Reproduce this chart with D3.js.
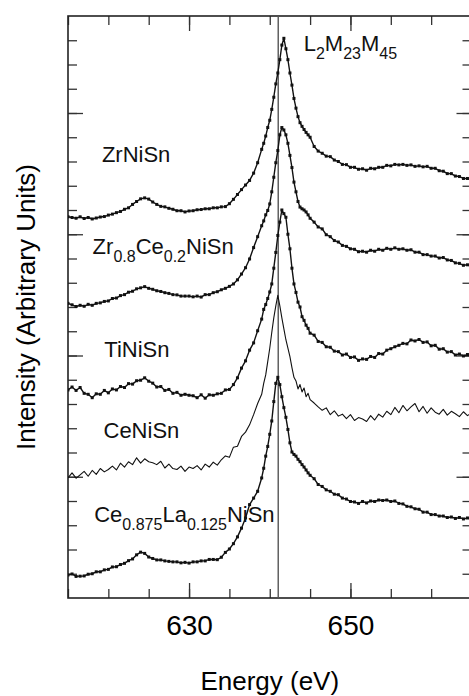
<!DOCTYPE html>
<html>
<head>
<meta charset="utf-8">
<script src="https://cdn.jsdelivr.net/npm/d3@7"></script>
<style>
  body { margin: 0; background: #fff; }
  svg { display: block; font-family: "Liberation Sans", Arial, Helvetica, sans-serif; }
</style>
</head>
<body>
<div id="chart-area"></div>
<script>
// energy grid (eV), finer around the L2M23M45 peak
const energies = [
  615, 615.5, 616, 616.5, 617, 617.5, 618, 618.5, 619, 619.5,
  620, 620.5, 621, 621.5, 622, 622.5, 623, 623.5, 624, 624.5,
  625, 625.5, 626, 626.5, 627, 627.5, 628, 628.5, 629, 629.5,
  630, 630.5, 631, 631.5, 632, 632.5, 633, 633.5, 634, 634.5,
  635, 635.5, 636, 636.5, 637, 637.5, 638, 638.5,
  639, 639.25, 639.5, 639.75, 640, 640.25, 640.5, 640.75, 641, 641.25,
  641.5, 641.75, 642, 642.25, 642.5, 642.75, 643, 643.25, 643.5, 643.75,
  644, 644.25, 644.5, 644.75, 645,
  645.5, 646, 646.5, 647, 647.5, 648, 648.5, 649, 649.5, 650,
  650.5, 651, 651.5, 652, 652.5, 653, 653.5, 654, 654.5, 655,
  655.5, 656, 656.5, 657, 657.5, 658, 658.5, 659, 659.5, 660,
  660.5, 661, 661.5, 662, 662.5, 663, 663.5, 664, 664.5, 665
]

// intensities, already stacked with their vertical offsets
const zrNiSn = [
  15.72, 15.69, 15.66, 15.72, 15.65, 15.69, 15.63, 15.67, 15.71, 15.73,
  15.79, 15.83, 15.89, 15.94, 16.03, 16.09, 16.23, 16.35, 16.46, 16.50,
  16.45, 16.33, 16.23, 16.15, 16.13, 16.07, 16.03, 15.97, 15.97, 15.92,
  15.96, 15.97, 16.01, 16.02, 16.05, 16.05, 16.09, 16.09, 16.13, 16.14,
  16.26, 16.44, 16.64, 16.84, 17.03, 17.22, 17.52, 17.95,
  18.50, 18.75, 19.05, 19.40, 19.70, 20.15, 20.65, 21.20, 21.65, 22.20,
  22.80, 23.08, 22.65, 22.20, 21.65, 21.15, 20.60, 20.20, 19.85, 19.60,
  19.45, 19.32, 19.20, 19.10, 19.00,
  18.62, 18.43, 18.34, 18.22, 18.20, 18.06, 18.00, 17.88, 17.87, 17.76,
  17.76, 17.68, 17.70, 17.64, 17.72, 17.70, 17.76, 17.76, 17.84, 17.82,
  17.88, 17.86, 17.88, 17.84, 17.86, 17.80, 17.82, 17.78, 17.80, 17.72,
  17.72, 17.62, 17.60, 17.50, 17.50, 17.40, 17.38, 17.30, 17.30, 17.24
]

const zrCeNiSn = [
  12.15, 12.09, 12.02, 12.07, 12.03, 12.11, 12.07, 12.15, 12.17, 12.23,
  12.25, 12.35, 12.37, 12.47, 12.51, 12.61, 12.65, 12.75, 12.79, 12.84,
  12.77, 12.73, 12.67, 12.64, 12.59, 12.56, 12.51, 12.50, 12.45, 12.45,
  12.45, 12.42, 12.45, 12.41, 12.51, 12.51, 12.59, 12.63, 12.71, 12.77,
  12.85, 12.95, 13.12, 13.36, 13.62, 13.98, 14.45, 14.90,
  15.35, 15.55, 15.80, 15.98, 16.25, 16.75, 17.35, 17.95, 18.45, 19.10,
  19.40, 19.30, 19.10, 18.75, 18.25, 17.75, 17.15, 16.75, 16.35, 16.12,
  16.05, 16.00, 15.92, 15.80, 15.66,
  15.50, 15.30, 15.22, 14.98, 14.90, 14.74, 14.68, 14.54, 14.50, 14.40,
  14.38, 14.28, 14.30, 14.26, 14.34, 14.30, 14.38, 14.34, 14.42, 14.38,
  14.44, 14.38, 14.40, 14.34, 14.36, 14.26, 14.26, 14.16, 14.16, 14.10,
  14.10, 14.02, 14.04, 13.94, 13.92, 13.82, 13.80, 13.72, 13.74, 13.66
]

const tiNiSn = [
  8.58, 8.70, 8.56, 8.68, 8.44, 8.40, 8.26, 8.42, 8.40, 8.56,
  8.46, 8.62, 8.58, 8.72, 8.68, 8.84, 8.82, 8.96, 8.98, 9.08,
  8.94, 8.86, 8.70, 8.72, 8.56, 8.60, 8.44, 8.48, 8.36, 8.40,
  8.36, 8.34, 8.26, 8.38, 8.24, 8.38, 8.36, 8.42, 8.44, 8.58,
  8.60, 8.80, 9.08, 9.48, 9.78, 10.22, 10.52, 11.02,
  11.50, 11.90, 12.10, 12.35, 12.62, 12.95, 13.60, 14.25, 14.95, 15.50,
  16.00, 15.85, 15.70, 15.00, 14.40, 13.60, 12.95, 12.60, 12.20, 12.00,
  11.60, 11.45, 11.25, 11.12, 10.92,
  10.84, 10.58, 10.54, 10.36, 10.34, 10.18, 10.16, 10.02, 10.06, 9.92,
  9.94, 9.80, 9.86, 9.84, 9.96, 9.92, 10.08, 10.06, 10.22, 10.28,
  10.36, 10.42, 10.50, 10.48, 10.64, 10.60, 10.66, 10.54, 10.56, 10.40,
  10.42, 10.26, 10.28, 10.14, 10.16, 10.02, 10.06, 9.98, 10.04, 9.92
]

const ceNiSn = [
  4.95, 5.16, 4.94, 5.08, 5.22, 5.02, 5.26, 5.10, 5.34, 5.20,
  5.30, 5.44, 5.28, 5.56, 5.40, 5.62, 5.50, 5.78, 5.56, 5.74,
  5.62, 5.58, 5.50, 5.64, 5.36, 5.52, 5.34, 5.30, 5.44, 5.22,
  5.40, 5.34, 5.46, 5.28, 5.52, 5.40, 5.60, 5.48, 5.70, 5.86,
  5.80, 6.22, 6.26, 6.66, 6.84, 7.14, 7.56, 8.02,
  8.40, 8.85, 9.20, 9.75, 10.30, 10.95, 11.55, 12.05, 12.48, 12.05,
  11.55, 11.10, 10.65, 10.30, 9.95, 9.50, 9.10, 8.95, 8.62, 8.80,
  8.50, 8.66, 8.30, 8.44, 8.18,
  8.04, 7.88, 7.74, 7.84, 7.56, 7.72, 7.50, 7.58, 7.40, 7.56,
  7.32, 7.44, 7.38, 7.28, 7.52, 7.34, 7.58, 7.46, 7.70, 7.56,
  7.86, 7.64, 7.94, 7.72, 7.88, 8.02, 7.68, 7.90, 7.62, 7.84,
  7.66, 7.58, 7.78, 7.54, 7.70, 7.60, 7.48, 7.68, 7.52, 7.62
]

const ceLaNiSn = [
  0.95, 0.99, 0.89, 0.90, 0.91, 0.98, 1.00, 1.08, 1.08, 1.16,
  1.18, 1.28, 1.29, 1.38, 1.43, 1.54, 1.61, 1.78, 1.89, 1.84,
  1.69, 1.63, 1.57, 1.57, 1.53, 1.51, 1.49, 1.49, 1.45, 1.47,
  1.44, 1.49, 1.49, 1.53, 1.53, 1.59, 1.59, 1.58, 1.68, 1.88,
  2.02, 2.24, 2.52, 2.88, 3.30, 3.85, 4.12, 4.40,
  4.95, 5.35, 5.85, 6.25, 6.75, 7.30, 8.10, 8.85, 9.10, 8.80,
  8.30, 7.85, 7.45, 6.95, 6.40, 6.02, 5.92, 5.85, 5.72, 5.62,
  5.50, 5.40, 5.28, 5.16, 5.06,
  4.92, 4.68, 4.60, 4.46, 4.40, 4.28, 4.26, 4.12, 4.08, 3.98,
  3.96, 3.90, 3.98, 3.92, 4.00, 3.98, 4.04, 4.02, 4.04, 3.98,
  4.00, 3.90, 3.88, 3.78, 3.76, 3.68, 3.66, 3.54, 3.54, 3.44,
  3.44, 3.38, 3.38, 3.32, 3.34, 3.28, 3.32, 3.26, 3.30, 3.24
]

// sample names, split in [text, isSubscript] parts
const sampleNames = [
  [["ZrNiSn", false]],
  [["Zr", false], ["0.8", true], ["Ce", false], ["0.2", true], ["NiSn", false]],
  [["TiNiSn", false]],
  [["CeNiSn", false]],
  [["Ce", false], ["0.875", true], ["La", false], ["0.125", true], ["NiSn", false]]
]
const peakName = [["L", false], ["2", true], ["M", false], ["23", true], ["M", false], ["45", true]]
const peakEnergy = 641.05

const xMinorTicks = [615, 620, 625, 630, 635, 640, 645, 650, 655, 660, 665]
const xTickLabels = [630, 650]
const yMinorTicks = [1, 2, 3, 4, 5, 6, 7, 8, 9, 10, 11, 12, 13, 14, 15, 16, 17, 18, 19, 20, 21, 22, 23]
const yMajorTicks = [5, 10, 15, 20]

class SpectraChart {
  constructor(_parentElement) {
    this.parentElement = _parentElement
    this.initVis()
  }

  initVis() {
    const vis = this

    vis.MARGIN = { LEFT: 68, RIGHT: -2.5, TOP: 16, BOTTOM: 98 }
    vis.WIDTH = 469 - vis.MARGIN.LEFT - vis.MARGIN.RIGHT
    vis.HEIGHT = 696 - vis.MARGIN.TOP - vis.MARGIN.BOTTOM

    vis.svg = d3.select(vis.parentElement)
      .append("svg")
      .attr("width", 469)
      .attr("height", 696)

    vis.g = vis.svg.append("g")
      .attr("transform", `translate(${vis.MARGIN.LEFT}, ${vis.MARGIN.TOP})`)

    vis.x = d3.scaleLinear().domain([615, 665]).range([0, vis.WIDTH])
    vis.y = d3.scaleLinear().domain([0, 24]).range([vis.HEIGHT, 0])

    vis.g.append("clipPath")
      .attr("id", "plot-clip")
      .append("rect")
      .attr("width", vis.WIDTH)
      .attr("height", vis.HEIGHT)

    vis.series = [
      { values: zrNiSn, markers: true, name: sampleNames[0], at: [619.2, 17.98] },
      { values: zrCeNiSn, markers: true, name: sampleNames[1], at: [618.05, 14.19] },
      { values: tiNiSn, markers: true, name: sampleNames[2], at: [619.5, 9.95] },
      { values: ceNiSn, markers: false, name: sampleNames[3], at: [619.4, 6.59] },
      { values: ceLaNiSn, markers: true, name: sampleNames[4], at: [618.25, 3.15] }
    ]

    vis.drawAxes()
    vis.drawSpectra()
    vis.drawLabels()
  }

  drawAxes() {
    const vis = this
    const tickColor = "#333"

    const styleTicks = (g) => {
      g.select(".domain").remove()
      g.selectAll(".tick line").attr("stroke", tickColor).attr("stroke-width", 1.3)
    }

    // inward ticks on all four sides
    vis.g.append("g")
      .attr("transform", `translate(0, ${vis.HEIGHT})`)
      .call(d3.axisTop(vis.x).tickValues(xMinorTicks).tickSize(9).tickFormat(""))
      .call(styleTicks)
    vis.g.append("g")
      .attr("transform", `translate(0, ${vis.HEIGHT})`)
      .call(d3.axisTop(vis.x).tickValues(xTickLabels).tickSize(15).tickFormat(""))
      .call(styleTicks)
    vis.g.append("g")
      .call(d3.axisBottom(vis.x).tickValues(xMinorTicks).tickSize(9).tickFormat(""))
      .call(styleTicks)
    vis.g.append("g")
      .call(d3.axisBottom(vis.x).tickValues(xTickLabels).tickSize(15).tickFormat(""))
      .call(styleTicks)

    vis.g.append("g")
      .call(d3.axisRight(vis.y).tickValues(yMinorTicks).tickSize(9).tickFormat(""))
      .call(styleTicks)
    vis.g.append("g")
      .call(d3.axisRight(vis.y).tickValues(yMajorTicks).tickSize(15).tickFormat(""))
      .call(styleTicks)
    vis.g.append("g")
      .attr("transform", `translate(${vis.WIDTH}, 0)`)
      .call(d3.axisLeft(vis.y).tickValues(yMinorTicks).tickSize(9).tickFormat(""))
      .call(styleTicks)
    vis.g.append("g")
      .attr("transform", `translate(${vis.WIDTH}, 0)`)
      .call(d3.axisLeft(vis.y).tickValues(yMajorTicks).tickSize(15).tickFormat(""))
      .call(styleTicks)

    // tick labels
    vis.g.append("g")
      .attr("class", "x axis")
      .attr("transform", `translate(0, ${vis.HEIGHT})`)
      .call(d3.axisBottom(vis.x).tickValues(xTickLabels).tickSize(0).tickPadding(17).tickFormat(d3.format("d")))
      .call(g => g.select(".domain").remove())
      .selectAll("text")
      .attr("font-size", "28px")
      .attr("font-family", null)
      .attr("fill", "#000")

    vis.g.append("rect")
      .attr("width", vis.WIDTH)
      .attr("height", vis.HEIGHT)
      .attr("fill", "none")
      .attr("stroke", "#222")
      .attr("stroke-width", 1.6)

    // reference line at the peak position
    vis.g.append("line")
      .attr("x1", vis.x(peakEnergy))
      .attr("x2", vis.x(peakEnergy))
      .attr("y1", 0)
      .attr("y2", vis.HEIGHT)
      .attr("stroke", "#555")
      .attr("stroke-width", 1.4)

    vis.g.append("text")
      .attr("class", "x-axis label")
      .attr("x", vis.WIDTH / 2)
      .attr("y", vis.HEIGHT + 92)
      .attr("font-size", "26px")
      .attr("text-anchor", "middle")
      .text("Energy (eV)")

    vis.g.append("text")
      .attr("class", "y-axis label")
      .attr("transform", "rotate(-90)")
      .attr("x", -vis.HEIGHT / 2)
      .attr("y", 35 - vis.MARGIN.LEFT)
      .attr("font-size", "26px")
      .attr("text-anchor", "middle")
      .text("Intensity (Arbitrary Units)")
  }

  drawSpectra() {
    const vis = this

    const plot = vis.g.append("g").attr("clip-path", "url(#plot-clip)")

    vis.series.forEach((s) => {
      const points = energies.map((e, i) => [e, s.values[i]])

      const line = d3.line()
        .x(d => vis.x(d[0]))
        .y(d => vis.y(d[1]))

      plot.append("path")
        .datum(points)
        .attr("d", line)
        .attr("fill", "none")
        .attr("stroke", "#111")
        .attr("stroke-width", s.markers ? 1.4 : 1.1)
        .attr("stroke-linejoin", "round")

      if (s.markers) {
        plot.append("g")
          .selectAll("rect")
          .data(points)
          .join("rect")
          .attr("x", d => vis.x(d[0]) - 1.5)
          .attr("y", d => vis.y(d[1]) - 1.5)
          .attr("width", 3)
          .attr("height", 3)
          .attr("fill", "#111")
      }
    })
  }

  drawLabels() {
    const vis = this

    const writeName = (parts, x, y) => {
      const text = vis.g.append("text")
        .attr("x", x)
        .attr("y", y)
        .attr("fill", "#111")
      let shifted = false
      parts.forEach(([str, sub]) => {
        const span = text.append("tspan").text(str)
        span.attr("font-size", sub ? "16px" : "22px")
        if (sub && !shifted) span.attr("dy", 8)
        if (!sub && shifted) span.attr("dy", -8)
        shifted = sub
      })
    }

    vis.series.forEach((s) => {
      writeName(s.name, vis.x(s.at[0]), vis.y(s.at[1]))
    })

    writeName(peakName, vis.x(644.2), vis.y(22.57))
  }
}

const chart = new SpectraChart("#chart-area")
</script>
</body>
</html>
